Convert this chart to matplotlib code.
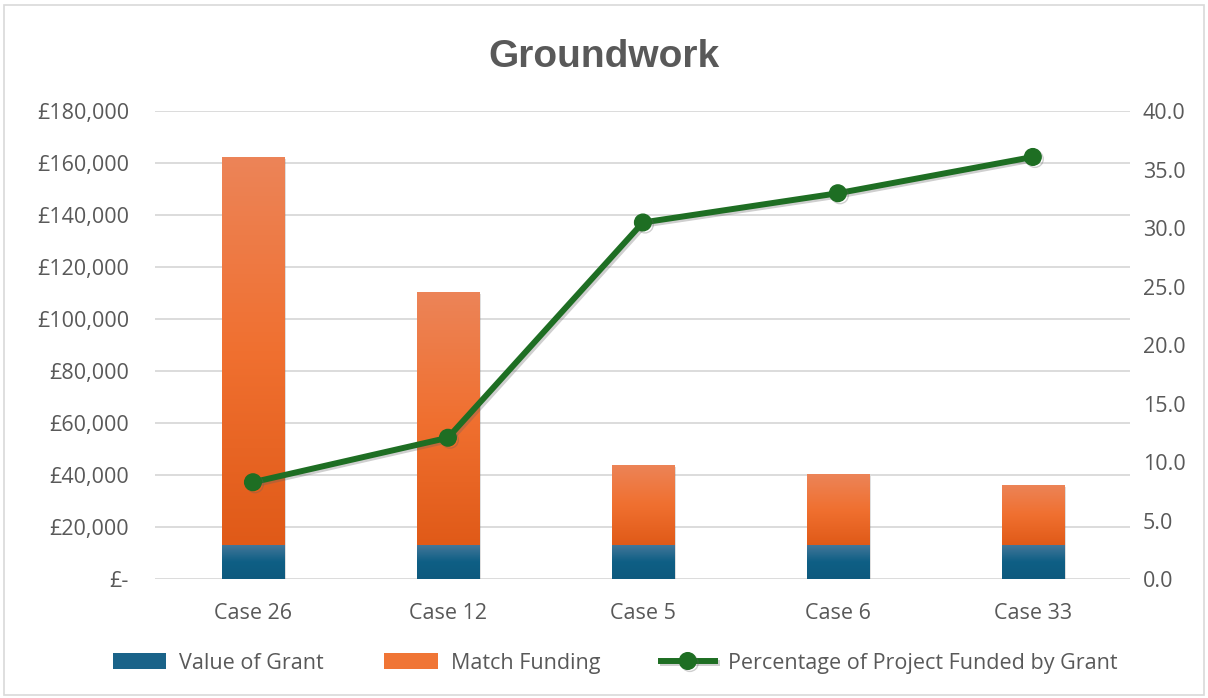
import numpy as np
import matplotlib
matplotlib.use("Agg")
import matplotlib.pyplot as plt
import matplotlib.patheffects as pe
from matplotlib.colors import LinearSegmentedColormap
from matplotlib.patches import Rectangle

plt.rcParams['font.family'] = ['Open Sans', 'DejaVu Sans']

cases = ["Case 26", "Case 12", "Case 5", "Case 6", "Case 33"]
grant = [13200, 13200, 13200, 13200, 13200]
match_funding = [149200, 97300, 30800, 27300, 23100]
pct_funded = [8.3, 12.1, 30.5, 33.0, 36.1]

left_ticks = [0, 20000, 40000, 60000, 80000, 100000, 120000, 140000, 160000, 180000]
right_ticks = [0, 5, 10, 15, 20, 25, 30, 35, 40]

text_col = "#595959"
grid_col = "#D9D9D9"
blue_cmap = LinearSegmentedColormap.from_list("b", ["#0E5A7E", "#0F5F85", "#46789A"])
orange_cmap = LinearSegmentedColormap.from_list("o", ["#E05A18", "#F07030", "#EC8458"])


def fill_gradient(ax, bars, cmap):
    # paint a vertical gradient inside every bar patch
    grad = np.linspace(0, 1, 256).reshape(-1, 1)
    for b in bars:
        x0, y0 = b.get_x(), b.get_y()
        w, h = b.get_width(), b.get_height()
        im = ax.imshow(grad, cmap=cmap, origin="lower", aspect="auto",
                       extent=[x0, x0 + w, y0, y0 + h], zorder=b.get_zorder())
        im.set_clip_path(b)
        b.set_facecolor("none")


fig = plt.figure(figsize=(12.08, 6.98), dpi=100)
ax = fig.add_axes([0.1287, 0.17, 0.807, 0.6705])
x = np.arange(len(cases))
shadow = [pe.SimplePatchShadow(offset=(1.5, -1.5), alpha=0.25, shadow_rgbFace="#808080"), pe.Normal()]

b1 = ax.bar(x, grant, width=0.318, color="#0F5F85", zorder=2, label="Value of Grant")
b2 = ax.bar(x, match_funding, bottom=grant, width=0.318, color="#F07030", zorder=2, label="Match Funding")
for b in list(b1) + list(b2):
    b.set_path_effects(shadow)
fill_gradient(ax, b1, blue_cmap)
fill_gradient(ax, b2, orange_cmap)

ax.set_xlim(-0.5, len(cases) - 0.5)
ax.set_ylim(0, 180000)
ax.set_yticks(left_ticks)
ax.set_yticklabels(["£-" if v == 0 else f"£{v:,}" for v in left_ticks])
ax.set_xticks(x)
ax.set_xticklabels(cases)
ax.grid(axis="y", color=grid_col, lw=1.3, zorder=0)
ax.set_axisbelow(True)
for s in ax.spines.values():
    s.set_visible(False)
ax.tick_params(axis="y", length=0, pad=19, labelsize=15.5, labelcolor=text_col)
ax.tick_params(axis="x", length=0, pad=17, labelsize=15.5, labelcolor=text_col)

ax2 = ax.twinx()
line_shadow = [pe.SimpleLineShadow(offset=(1.5, -1.5), alpha=0.3, shadow_color="#606060"), pe.Normal()]
ln, = ax2.plot(x, pct_funded, color="#1E6E23", lw=4.3, marker="o", markersize=12,
               label="Percentage of Project Funded by Grant", zorder=5, path_effects=line_shadow)
ax2.set_ylim(0, 40)
ax2.set_yticks(right_ticks)
ax2.set_yticklabels([f"{v:.1f}" for v in right_ticks])
ax2.tick_params(axis="y", length=0, pad=9, labelsize=15.5, labelcolor=text_col)
for s in ax2.spines.values():
    s.set_visible(False)

fig.text(0.5, 0.904, "Groundwork", ha="center", va="baseline", fontsize=28,
         fontweight="bold", color=text_col, family=["Liberation Sans", "DejaVu Sans"])

h1 = Rectangle((0, 0), 1, 1, facecolor="#1A6389")
h2 = Rectangle((0, 0), 1, 1, facecolor="#F07535")
fig.legend([h1, h2, ln], ["Value of Grant", "Match Funding", "Percentage of Project Funded by Grant"],
           loc="center", bbox_to_anchor=(0.509, 0.05), ncol=3, frameon=False,
           fontsize=15.5, labelcolor=text_col, handlelength=2.5, handleheight=0.72,
           columnspacing=2.8, handletextpad=0.6)

fig.patches.append(Rectangle((0.003, 0.004), 0.994, 0.989, transform=fig.transFigure,
                             fill=False, edgecolor=grid_col, lw=1.2))

fig.savefig("out.png", dpi=100)
